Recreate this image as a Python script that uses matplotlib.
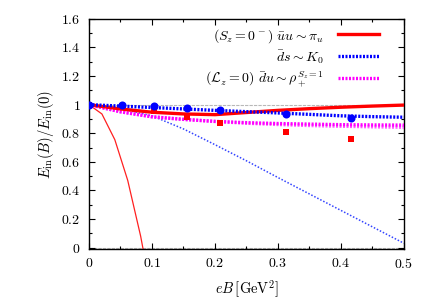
import numpy as np
import matplotlib
matplotlib.use("Agg")
import matplotlib.pyplot as plt
from matplotlib.ticker import MultipleLocator, FuncFormatter

# magnetic field values (GeV^2)
eB_lat = [0.0, 0.052, 0.104, 0.156, 0.208, 0.312, 0.416]
pi_lat = [1.0, 0.99, 0.953, 0.912, 0.872, 0.81, 0.762]      # red squares
k0_lat = [1.0, 0.997, 0.99, 0.977, 0.965, 0.932, 0.906]     # blue circles

eB_curve = [0.0, 0.05, 0.1, 0.15, 0.2, 0.25, 0.3, 0.35, 0.4, 0.45, 0.5]
pi_curve = [1.0, 0.97, 0.947, 0.935, 0.93, 0.945, 0.96, 0.972, 0.982, 0.99, 0.997]
k0_curve = [1.0, 0.99, 0.98, 0.97, 0.96, 0.951, 0.942, 0.932, 0.922, 0.916, 0.912]
rho_up = [1.0, 0.95, 0.915, 0.897, 0.883, 0.874, 0.868, 0.864, 0.86, 0.858, 0.857]
rho_lo = [1.0, 0.95, 0.915, 0.897, 0.882, 0.87, 0.861, 0.854, 0.849, 0.845, 0.842]
k0_thin = [1.0, 0.972, 0.922, 0.83, 0.72, 0.607, 0.49, 0.375, 0.26, 0.145, 0.03]

# steep thin red curve
eB_steep = [0.0, 0.0205, 0.041, 0.0615, 0.082, 0.1025]
pi_steep = [1.0, 0.935, 0.755, 0.47, 0.08, -0.4]

plt.rcParams['mathtext.fontset'] = 'cm'
plt.rcParams['font.family'] = 'serif'
plt.rcParams['font.serif'] = ['cmr10', 'DejaVu Serif']
plt.rcParams['axes.unicode_minus'] = False

fig = plt.figure(figsize=(4.32, 3.0), dpi=100)
ax = fig.add_axes([0.206, 0.17, 0.729, 0.767])

# reference lines
ax.axhline(1.0, color='#b8b8b8', lw=0.8, dashes=(3, 1), zorder=1)
ax.axhline(0.0, color='#b8b8b8', lw=0.8, dashes=(3, 1), zorder=1)

ax.plot(eB_curve, k0_thin, color='#3344ff', lw=1.1, dashes=(1, 1.2), zorder=2)
ax.plot(eB_steep, pi_steep, color='#ff2020', lw=0.9, zorder=2)

dot = (0.6, 0.45)
ax.plot(eB_curve, rho_lo, color='#ff33ff', lw=2.4, dashes=dot, dash_capstyle='butt', alpha=0.8, zorder=3)
l3, = ax.plot(eB_curve, rho_up, color='#ff00ff', lw=2.4, dashes=dot, dash_capstyle='butt', zorder=3)
l1, = ax.plot(eB_curve, pi_curve, color='#ff0000', lw=2.4, zorder=4)
l2, = ax.plot(eB_curve, k0_curve, color='#0000ff', lw=2.4, dashes=dot, dash_capstyle='butt', zorder=5)

ax.plot(eB_lat, pi_lat, 's', color='#ff0000', ms=4.2, mew=0, zorder=6)
ax.plot(eB_lat, k0_lat, 'o', color='#0000ff', ms=5.8, mew=0, zorder=7)

ax.set_xlim(0, 0.5)
ax.set_ylim(-0.01, 1.6)
ax.xaxis.set_major_locator(MultipleLocator(0.1))
ax.xaxis.set_minor_locator(MultipleLocator(0.05))
ax.yaxis.set_major_locator(MultipleLocator(0.2))
ax.yaxis.set_minor_locator(MultipleLocator(0.1))
fmt = FuncFormatter(lambda v, p: '$%g$' % round(v, 3))
ax.xaxis.set_major_formatter(fmt)
ax.yaxis.set_major_formatter(fmt)
ax.tick_params(which='both', direction='in', top=True, right=True, labelsize=10)
ax.tick_params(which='major', length=4, width=0.8, pad=6)
ax.tick_params(which='minor', length=2, width=0.8)
for s in ax.spines.values():
    s.set_linewidth(1.0)

ax.set_xlabel(r'$eB\,[{\rm GeV}^2]$', fontsize=10.5, labelpad=5)
ax.set_ylabel(r'$E_{\rm in}(B)/E_{\rm in}(0)$', fontsize=10.5, labelpad=4)

labels = [r'$(S_z=0^-)\ \bar{u}u\sim\pi_u$',
          r'$\bar{d}s\sim K_0$',
          r'$(\mathcal{L}_z=0)\ \bar{d}u\sim\rho_+^{S_z=1}$']
ax.legend([l1, l2, l3], labels, loc='upper right', bbox_to_anchor=(0.94, 0.99),
          frameon=False, markerfirst=False, fontsize=10, handlelength=3.0,
          handletextpad=1.0, labelspacing=0.25, borderaxespad=0)

fig.savefig('out.png', dpi=100)
